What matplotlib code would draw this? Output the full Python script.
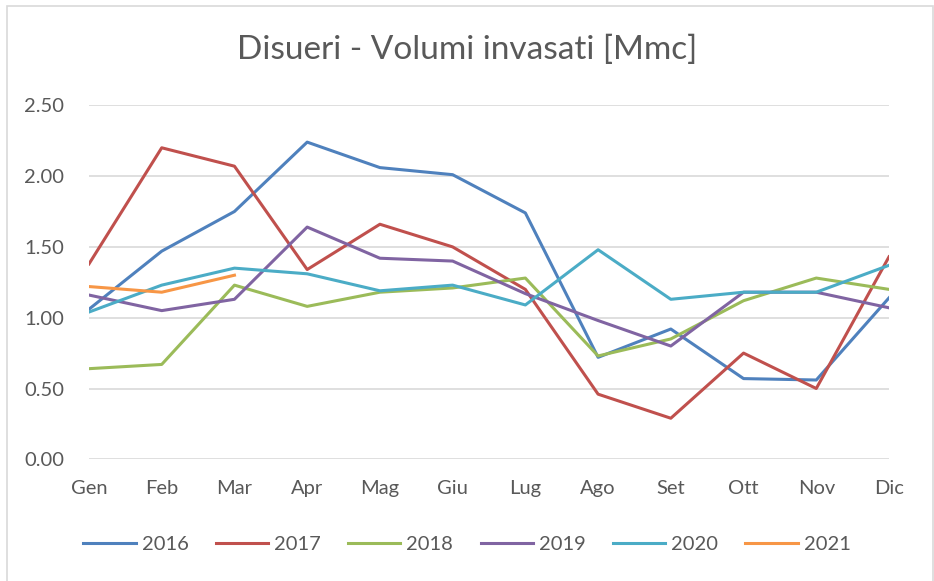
import matplotlib.pyplot as plt
from matplotlib.patches import Rectangle

months = ["Gen", "Feb", "Mar", "Apr", "Mag", "Giu", "Lug", "Ago", "Set", "Ott", "Nov", "Dic"]

v2016 = [1.06, 1.47, 1.75, 2.24, 2.06, 2.01, 1.74, 0.72, 0.92, 0.57, 0.56, 1.14]
v2017 = [1.38, 2.20, 2.07, 1.34, 1.66, 1.50, 1.20, 0.46, 0.29, 0.75, 0.50, 1.43]
v2018 = [0.64, 0.67, 1.23, 1.08, 1.18, 1.21, 1.28, 0.73, 0.85, 1.12, 1.28, 1.20]
v2019 = [1.16, 1.05, 1.13, 1.64, 1.42, 1.40, 1.17, 0.98, 0.80, 1.18, 1.18, 1.07]
v2020 = [1.04, 1.23, 1.35, 1.31, 1.19, 1.23, 1.09, 1.48, 1.13, 1.18, 1.18, 1.37]
v2021 = [1.22, 1.18, 1.30]

series = [
    ("2016", v2016, "#4F81BD"),
    ("2017", v2017, "#C0504D"),
    ("2018", v2018, "#9BBB59"),
    ("2019", v2019, "#8064A2"),
    ("2020", v2020, "#4BACC6"),
    ("2021", v2021, "#F79646"),
]

text_col = "#595959"
plt.rcParams["font.family"] = ["Lato", "DejaVu Sans"]

fig = plt.figure(figsize=(9.34, 5.81), dpi=100)
# light frame round the whole chart, as in the spreadsheet export
fig.patches.append(Rectangle((7 / 934, -0.01), 926 / 934, 1 - 6 / 581 + 0.01,
                             transform=fig.transFigure, fill=False,
                             edgecolor="#d9d9d9", lw=1.2))

ax = fig.add_axes([89 / 934, 1 - 459.3 / 581, 800 / 934, 354 / 581])
x = list(range(len(months)))
for label, vals, col in series:
    ax.plot(x[:len(vals)], vals, color=col, lw=2.2, label=label,
            solid_joinstyle="round")

ax.set_xlim(0, len(months) - 1)
ax.set_ylim(0, 2.5)
ax.set_yticks([0, 0.5, 1.0, 1.5, 2.0, 2.5])
ax.set_yticklabels([f"{v:.2f}" for v in [0, 0.5, 1.0, 1.5, 2.0, 2.5]])
ax.set_xticks(x)
ax.set_xticklabels(months)
ax.grid(axis="y", color="#d9d9d9", lw=1.2)
ax.set_axisbelow(True)
for s in ax.spines.values():
    s.set_visible(False)
ax.tick_params(axis="both", length=0, labelsize=14.5, colors=text_col)
ax.tick_params(axis="y", pad=18)
ax.tick_params(axis="x", pad=15)

fig.text(0.5, 1 - 50 / 581, "Disueri - Volumi invasati [Mmc]", ha="center",
         va="center", fontsize=24, color=text_col)

leg = ax.legend(loc="center", bbox_to_anchor=(0.5, 1 - 544 / 581), bbox_transform=fig.transFigure,
                ncol=6, frameon=False, fontsize=14.5, handlelength=2.6,
                columnspacing=1.35, handletextpad=0.3)
for t in leg.get_texts():
    t.set_color(text_col)

fig.savefig("out.png", dpi=100)
